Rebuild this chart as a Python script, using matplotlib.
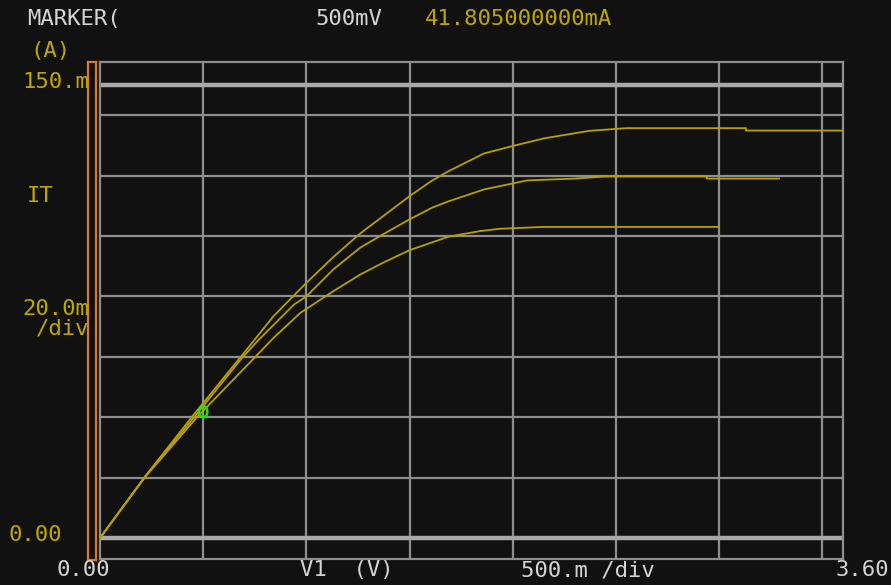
import numpy as np
import matplotlib.pyplot as plt
from matplotlib.patches import Ellipse

# I-V curves (V, mA)
v_top = [0, 0.22, 0.45, 0.68, 0.84, 1.0, 1.13, 1.26, 1.39, 1.5, 1.61, 1.69, 1.86, 2.0, 2.15, 2.37, 2.55, 3.13, 3.13, 3.6]
i_top = [0, 20.5, 40.5, 59.8, 73.4, 84.5, 93.0, 100.8, 107.5, 113.2, 118.4, 121.5, 127.3, 129.8, 132.3, 134.8, 135.7, 135.7, 134.9, 134.9]

v_mid = [0, 0.22, 0.46, 0.69, 0.77, 0.94, 1.0, 1.13, 1.26, 1.37, 1.5, 1.61, 1.69, 1.86, 2.07, 2.3, 2.45, 2.94, 2.94, 3.29]
i_mid = [0, 20.5, 40.3, 59.8, 65.7, 77.3, 80.0, 88.9, 96.1, 100.5, 105.5, 109.4, 111.5, 115.4, 118.4, 119.0, 119.7, 119.7, 119.0, 119.0]

v_bot = [0, 0.22, 0.47, 0.75, 0.84, 0.97, 1.13, 1.26, 1.37, 1.5, 1.61, 1.69, 1.84, 1.94, 2.15, 3.0]
i_bot = [0, 20.3, 40.0, 59.8, 66.2, 74.5, 81.7, 87.2, 91.1, 95.3, 97.9, 99.8, 101.6, 102.4, 103.0, 103.0]

marker_v, marker_i = 0.5, 41.805
x_grid = [0.5, 1.0, 1.5, 2.0, 2.5, 3.0, 3.5]
y_grid = [20, 40, 60, 80, 100, 120, 140]
y_thick = [0, 150]

bg = '#111111'
grey = '#8e8e8e'
white = '#d4d4d4'
yellow = '#bfa600'
curve = '#b8a000'
mono = 'DejaVu Sans Mono'

W, H = 891, 585
fig = plt.figure(figsize=(8.91, 5.85), dpi=100, facecolor=bg)

def fx(px):
    return px / W

def fy(py):
    return 1 - py / H

ax = fig.add_axes([fx(100), fy(559), (843 - 100) / W, (559 - 62) / H])
ax.set_facecolor(bg)
ax.set_xlim(0, 3.6)
ax.set_ylim(-6.95, 157.6)
ax.set_xticks([])
ax.set_yticks([])
for s in ax.spines.values():
    s.set_color(grey)
    s.set_linewidth(1.6)

for x in x_grid:
    ax.axvline(x, color=grey, lw=1.6, zorder=1)
for y in y_grid:
    ax.axhline(y, color=grey, lw=1.6, zorder=1)
for y in y_thick:
    ax.axhline(y, color='#a8a8a8', lw=3.2, zorder=1)

ax.plot(v_top, i_top, color=curve, lw=1.3, zorder=3)
ax.plot(v_mid, i_mid, color=curve, lw=1.3, zorder=3)
ax.plot(v_bot, i_bot, color=curve, lw=1.3, zorder=3)
# green marker ring, a bit taller than wide
ax.add_patch(Ellipse((marker_v, marker_i), 0.04, 3.8, fill=False,
                     edgecolor='#22dd22', lw=1.8, zorder=4))

# orange bar on the left of the screen
bar = fig.add_axes([fx(88), fy(560), 8 / W, (560 - 62) / H])
bar.set_facecolor(bg)
bar.set_xticks([])
bar.set_yticks([])
for s in bar.spines.values():
    s.set_color('#d97a2b')
    s.set_linewidth(1.6)

def label(px, py, text, color, ha='left'):
    fig.text(fx(px), fy(py), text, color=color, ha=ha, va='center',
             family=mono, fontsize=16)

label(27, 19, 'MARKER(', white)
label(315, 19, '500mV', white)
label(425, 19, '41.805000000mA', yellow)
label(30, 51, '(A)', yellow)
label(89, 82, '150.m', yellow, ha='right')
label(27, 196, 'IT', yellow)
label(89, 309, '20.0m', yellow, ha='right')
label(89, 328, '/div', yellow, ha='right')
label(8, 535, '0.00', yellow)
label(56, 570, '0.00', white)
label(300, 570, 'V1  (V)', white)
label(521, 570, '500.m /div', white)
label(889, 570, '3.60', white, ha='right')

fig.savefig('out.png', dpi=100, facecolor=bg)
